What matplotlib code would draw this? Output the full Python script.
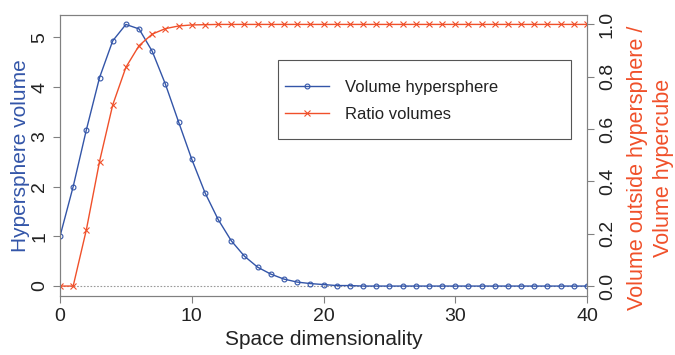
import numpy as np
import matplotlib
matplotlib.use("Agg")
import matplotlib.pyplot as plt
from matplotlib.patches import Rectangle

plt.rcParams['font.family'] = ['Liberation Sans', 'DejaVu Sans']

# Space dimensionality 0..40
dims = list(range(41))

# Volume of the unit hypersphere
sphere_volume = [1.00, 2.00, 3.14, 4.19, 4.93, 5.26, 5.17, 4.72, 4.06, 3.30,
                 2.55, 1.88, 1.34, 0.91, 0.60, 0.38, 0.24, 0.14, 0.08, 0.05,
                 0.03, 0.01, 0.01, 0.00, 0.00, 0.00, 0.00, 0.00, 0.00, 0.00,
                 0.00, 0.00, 0.00, 0.00, 0.00, 0.00, 0.00, 0.00, 0.00, 0.00,
                 0.00]

# Volume outside hypersphere / volume hypercube
ratio_volume = [0.000, 0.000, 0.215, 0.476, 0.692, 0.836, 0.919, 0.963, 0.984, 0.994,
                0.998, 0.999, 1.000, 1.000, 1.000, 1.000, 1.000, 1.000, 1.000, 1.000,
                1.000, 1.000, 1.000, 1.000, 1.000, 1.000, 1.000, 1.000, 1.000, 1.000,
                1.000, 1.000, 1.000, 1.000, 1.000, 1.000, 1.000, 1.000, 1.000, 1.000,
                1.000]

blue = "#3355a8"
red = "#f0502a"
frame = "#808080"

fig = plt.figure(figsize=(6.75, 3.55), dpi=100)
ax = fig.add_axes([60 / 675, 1 - 296 / 355, 527 / 675, 281 / 355])
ax2 = ax.twinx()

ax.axhline(0, color="#999999", lw=0.8, ls=(0, (1.5, 1.5)), zorder=1)
l1, = ax.plot(dims, sphere_volume, color=blue, lw=1, marker="o", ms=3.5,
              mfc="none", mew=0.8, zorder=3, label="Volume hypersphere")
l2, = ax2.plot(dims, ratio_volume, color=red, lw=1, marker="x", ms=4,
               mew=0.8, label="Ratio volumes")

ax.set_xlim(0, 40)
ax.set_ylim(-0.2, 5.45)
ax2.set_ylim(-0.038, 1.036)

ax.set_xticks([0, 10, 20, 30, 40])
ax.set_yticks([0, 1, 2, 3, 4, 5])
ax2.set_yticks([0.0, 0.2, 0.4, 0.6, 0.8, 1.0])
ax2.set_yticklabels(["0.0", "0.2", "0.4", "0.6", "0.8", "1.0"])

for a in (ax, ax2):
    for s in a.spines.values():
        s.set_color(frame)
    a.tick_params(colors="#222222", labelsize=14, length=5, width=0.8,
                  direction="out")
    a.tick_params(axis="both", color=frame)
ax.tick_params(axis="y", labelrotation=90)
ax2.tick_params(axis="y", labelrotation=90)
for t in ax.get_yticklabels() + ax2.get_yticklabels():
    t.set_va("center")

ax.set_xlabel("Space dimensionality", fontsize=15, color="#222222", labelpad=4)
ax.set_ylabel("Hypersphere volume", fontsize=15, color=blue, labelpad=1)
ax2.set_ylabel("Volume outside hypersphere /\nVolume hypercube", fontsize=15.5,
               color=red, labelpad=8, linespacing=1.3)
ax2.yaxis.label.set_y(0.456)

# legend box drawn by hand, entries placed inside it
box = Rectangle((0.414, 0.559), 0.556, 0.281, transform=ax.transAxes,
                fill=True, facecolor="white", edgecolor="#555555", lw=0.8,
                zorder=4)
ax2.add_patch(box)
leg = ax2.legend(handles=[l1, l2], loc="center left",
                 bbox_to_anchor=(0.412, 0.694), fontsize=12, frameon=False,
                 borderpad=0, handlelength=2.6, labelspacing=0.75,
                 handletextpad=1.0)
for txt in leg.get_texts():
    txt.set_color("#222222")
leg.set_zorder(5)

fig.savefig("out.png", dpi=100)
